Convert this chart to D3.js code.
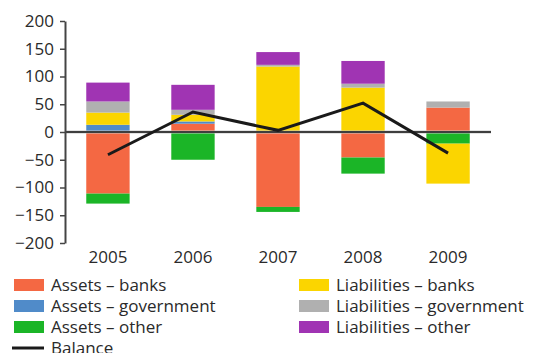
<!DOCTYPE html>
<html>
<head>
<meta charset="utf-8">
<script src="https://cdn.jsdelivr.net/npm/d3@7"></script>
<style>
  body { margin: 0; background: #fff; }
  svg { font-family: "Open Sans", sans-serif; }
</style>
</head>
<body>
<svg id="chart" width="535" height="353"></svg>
<script>
// data
var years = ['2005', '2006', '2007', '2008', '2009'];
var assetsBanks = [-111, 15, -135, -46, 44];
var assetsGov = [13, 4, 0, 0, 0];
var assetsOther = [-18, -50, -9, -29, -21];
var liabBanks = [22, 12, 118, 80, -72];
var liabGov = [20, 9, 3, 7, 11];
var liabOther = [34, 45, 23, 41, 0];
var balance = [-41, 36, 3, 52, -38];
var yTicks = [200, 150, 100, 50, 0, -50, -100, -150, -200];

var keys = ['Assets – banks', 'Assets – government', 'Assets – other',
            'Liabilities – banks', 'Liabilities – government', 'Liabilities – other'];
var series = [assetsBanks, assetsGov, assetsOther, liabBanks, liabGov, liabOther];
var colors = ['#f46843', '#508bc9', '#1bb527', '#fbd500', '#b0b0b0', '#a034b3'];

var data = years.map(function(y, i) {
  var row = { year: y };
  keys.forEach(function(k, j) { row[k] = series[j][i]; });
  return row;
});

var svg = d3.select('#chart');
var margin = { left: 65, right: 44, top: 21, bottom: 110 };
var width = 535 - margin.left - margin.right,
    height = 353 - margin.top - margin.bottom;

var g = svg.append('g')
  .attr('transform', 'translate(' + margin.left + ',' + margin.top + ')');

var x = d3.scaleBand().domain(years).range([0, width]).paddingInner(0.49).paddingOuter(0.25);
var y = d3.scaleLinear().domain([-200, 200]).range([height, 0]);
var z = d3.scaleOrdinal().domain(keys).range(colors);

var stacked = d3.stack().keys(keys).offset(d3.stackOffsetDiverging)(data);

g.append('g')
  .selectAll('g')
  .data(stacked)
  .enter().append('g')
  .attr('fill', function(d) { return z(d.key); })
  .selectAll('rect')
  .data(function(d) { return d; })
  .enter().append('rect')
  .attr('x', function(d) { return x(d.data.year); })
  .attr('y', function(d) { return y(d[1]); })
  .attr('height', function(d) { return y(d[0]) - y(d[1]); })
  .attr('width', x.bandwidth());

// zero line
g.append('line')
  .attr('x1', 0).attr('x2', width)
  .attr('y1', y(0)).attr('y2', y(0))
  .attr('stroke', '#c8c8c8').attr('stroke-width', 3);
g.append('line')
  .attr('x1', 0).attr('x2', width)
  .attr('y1', y(0)).attr('y2', y(0))
  .attr('stroke', '#111').attr('stroke-width', 1.5);

// balance line
var line = d3.line()
  .x(function(d, i) { return x(years[i]) + x.bandwidth() / 2; })
  .y(function(d) { return y(d); });

g.append('path')
  .datum(balance)
  .attr('d', line)
  .attr('fill', 'none')
  .attr('stroke', '#1a1a1a')
  .attr('stroke-width', 3);

// y axis
var yAxis = g.append('g')
  .call(d3.axisLeft(y).tickValues(yTicks).tickSize(5).tickSizeOuter(0).tickPadding(6));
yAxis.select('.domain').attr('stroke', '#444').attr('stroke-width', 2);
yAxis.selectAll('.tick line').attr('stroke', '#444').attr('stroke-width', 1.5);
yAxis.selectAll('.tick text').attr('font-size', 17).attr('fill', '#2a2a2a')
  .attr('font-family', '"Open Sans", sans-serif');

// x labels
g.append('g')
  .selectAll('text')
  .data(years)
  .enter().append('text')
  .attr('x', function(d) { return x(d) + x.bandwidth() / 2; })
  .attr('y', height + 20)
  .attr('text-anchor', 'middle')
  .attr('font-size', 17)
  .attr('fill', '#2a2a2a')
  .text(function(d) { return d; });

// legend
var legend = svg.append('g');
var legItems = legend.selectAll('g')
  .data(keys)
  .enter().append('g')
  .attr('transform', function(d, i) {
    var col = i < 3 ? 0 : 1, row = i % 3;
    return 'translate(' + (col ? 299 : 14) + ',' + (285 + row * 21) + ')';
  });

legItems.append('rect')
  .attr('x', 0).attr('y', -6)
  .attr('width', 30).attr('height', 12)
  .attr('fill', z);

legItems.append('text')
  .attr('x', 37).attr('y', 0)
  .attr('dy', '0.35em')
  .attr('font-size', 17)
  .attr('fill', '#2a2a2a')
  .text(function(d) { return d; });

var balLeg = legend.append('g').attr('transform', 'translate(12,348)');
balLeg.append('line')
  .attr('x1', 0).attr('x2', 32)
  .attr('stroke', '#1a1a1a').attr('stroke-width', 3);
balLeg.append('text')
  .attr('x', 39).attr('dy', '0.35em')
  .attr('font-size', 17).attr('fill', '#2a2a2a')
  .text('Balance');
</script>
</body>
</html>
